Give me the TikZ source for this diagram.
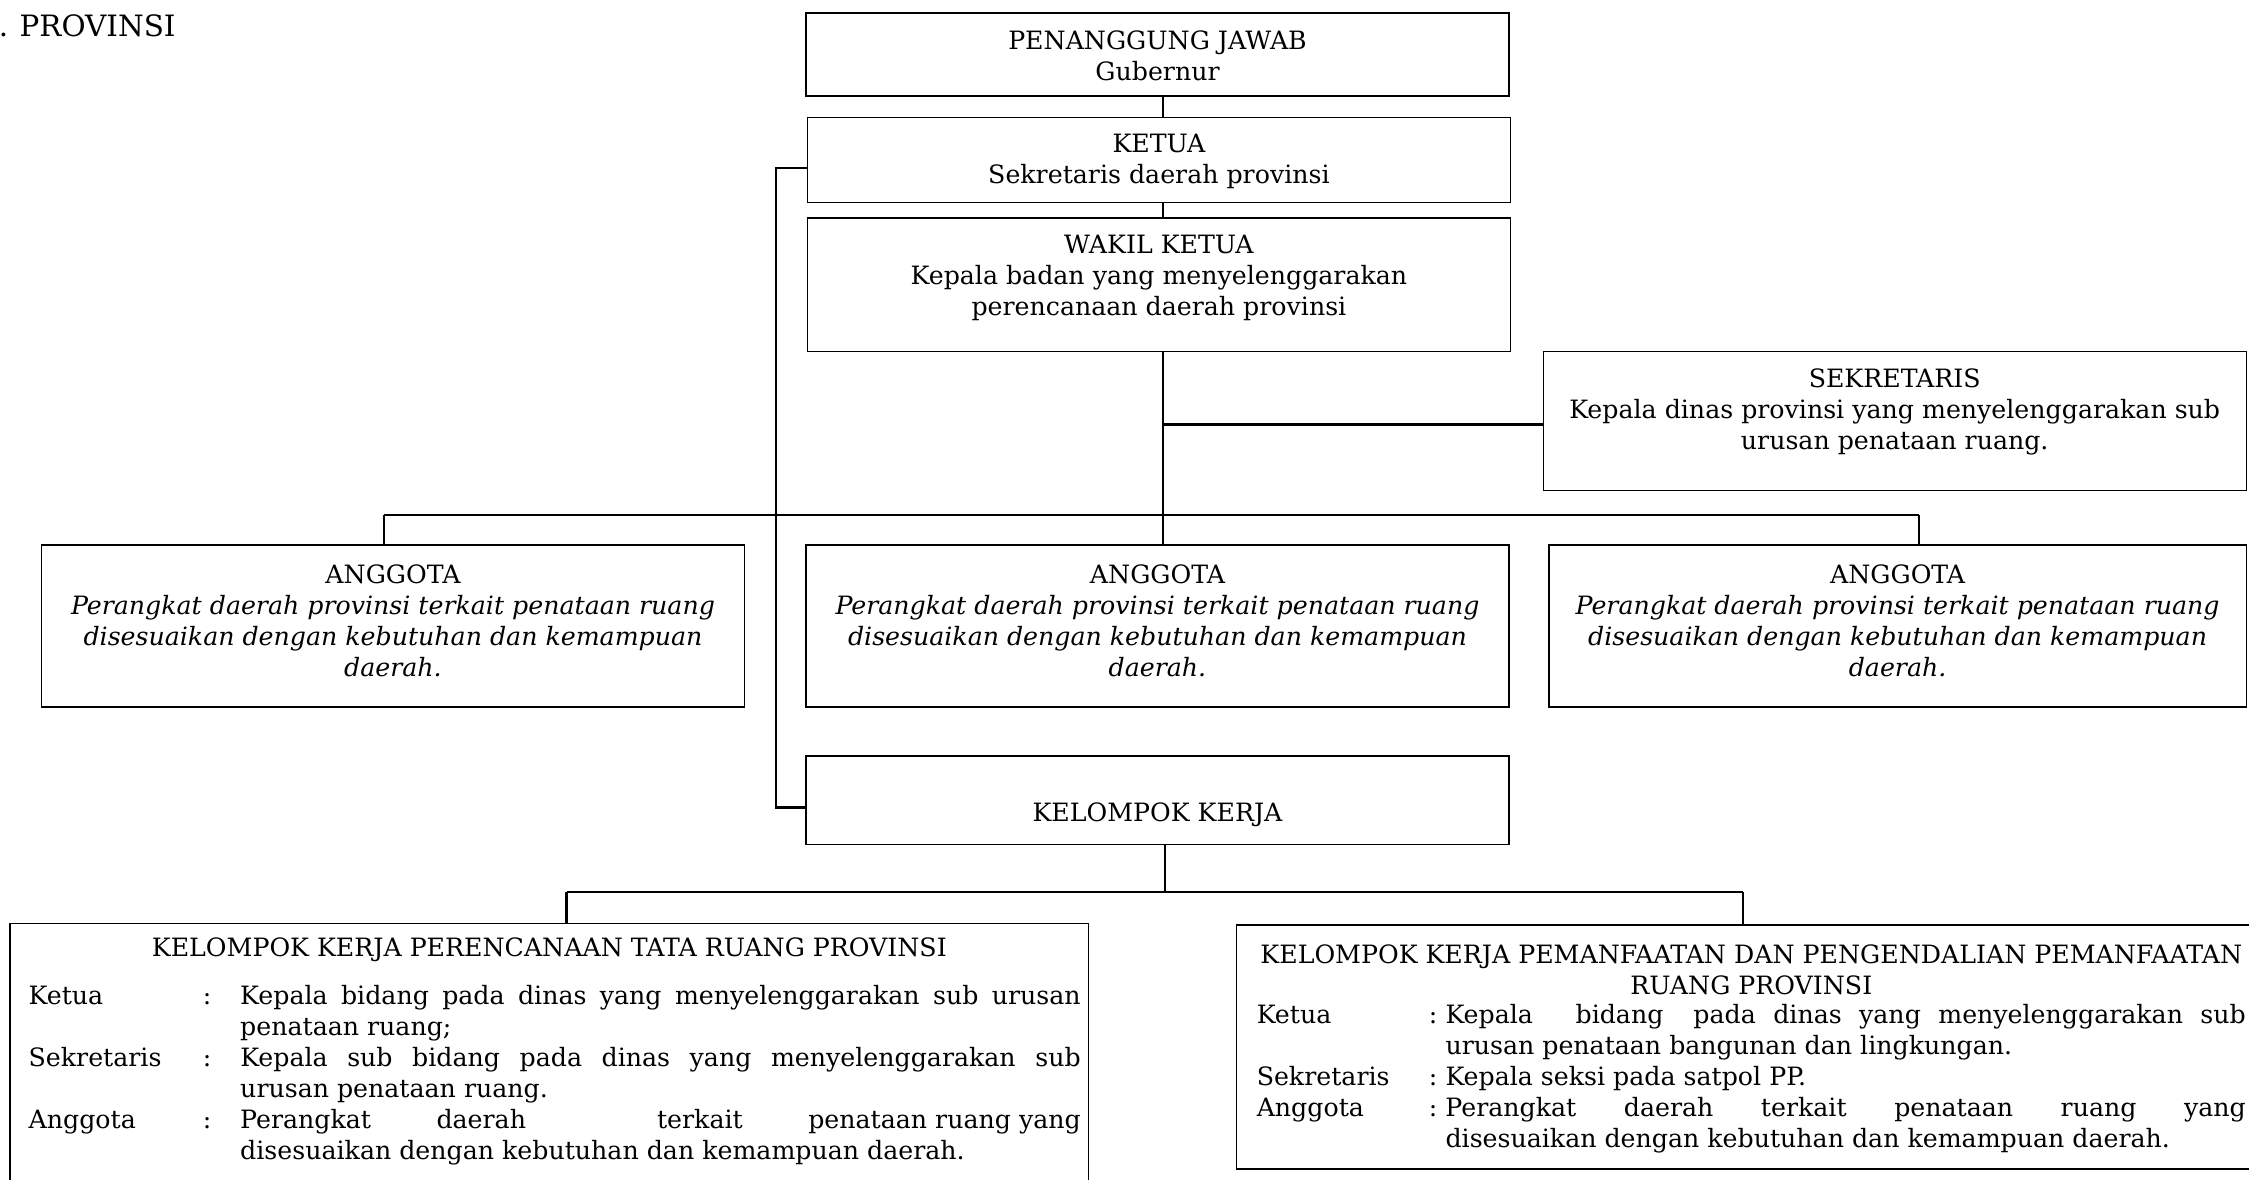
\documentclass[tikz,border=0pt]{standalone}
\usepackage{fontspec}
\usepackage{array}
\setmainfont{DejaVu Serif}
\newcommand\bodyfont{\fontsize{17.6}{21.6}\selectfont\hyphenpenalty=10000\exhyphenpenalty=10000}
\begin{document}
\begin{tikzpicture}[x=1pt,y=-1pt,
  box/.style={draw, line width=0.9pt, inner sep=0pt, outer sep=0pt},
  conn/.style={line width=1.5pt},
  txt/.style={inner sep=0pt, align=center, font=\bodyfont},
  lst/.style={inner sep=0pt, anchor=north west, font=\bodyfont},
]
\clip (0,0) rectangle (1568,822);
% header
\node[inner sep=0pt, anchor=west, font=\fontsize{20.5}{24}\selectfont] (hdr) at (-1,18) {.\hspace{8pt}PROVINSI};
% boxes
\node[box, minimum width=490pt, minimum height=58pt] (pj) at (807,38) {};
\node[box, minimum width=490pt, minimum height=59pt] (ketua) at (808,111.5) {};
\node[box, minimum width=490pt, minimum height=93pt] (wakil) at (808,198.5) {};
\node[box, minimum width=490pt, minimum height=97pt] (sek) at (1321,293.5) {};
\node[box, minimum width=490pt, minimum height=113pt] (a1) at (274,436.5) {};
\node[box, minimum width=490pt, minimum height=113pt] (a2) at (807,436.5) {};
\node[box, minimum width=486pt, minimum height=113pt] (a3) at (1323,436.5) {};
\node[box, minimum width=490pt, minimum height=62pt] (kk) at (807,558) {};
\node[box, minimum width=752pt, minimum height=186pt] (kp1) at (383,737) {};
\node[box, minimum width=718pt, minimum height=170pt] (kp2) at (1221,730) {};
% texts
\node[txt] (pjt) at (807,39) {PENANGGUNG JAWAB\\Gubernur};
\node[txt] (kt) at (808,112.5) {KETUA\\Sekretaris daerah provinsi};
\node[txt] (wt) at (808,194) {WAKIL KETUA\\Kepala badan yang menyelenggarakan\\perencanaan daerah provinsi};
\node[txt] (st) at (1321,287) {SEKRETARIS\\Kepala dinas provinsi yang menyelenggarakan sub\\urusan penataan ruang.};
\node[txt] (a1t) at (274,433) {ANGGOTA\\\textit{Perangkat daerah provinsi terkait penataan ruang}\\\textit{disesuaikan dengan kebutuhan dan kemampuan}\\\textit{daerah.}};
\node[txt] (a2t) at (807,433) {ANGGOTA\\\textit{Perangkat daerah provinsi terkait penataan ruang}\\\textit{disesuaikan dengan kebutuhan dan kemampuan}\\\textit{daerah.}};
\node[txt] (a3t) at (1323,433) {ANGGOTA\\\textit{Perangkat daerah provinsi terkait penataan ruang}\\\textit{disesuaikan dengan kebutuhan dan kemampuan}\\\textit{daerah.}};
\node[txt] (kkt) at (807,568) {KELOMPOK KERJA};
% kelompok kerja perencanaan
\node[txt] (kp1t) at (383,662) {KELOMPOK KERJA PERENCANAAN TATA RUANG PROVINSI};
\node[lst] (kp1l) at (19.8,685) {%
\begin{tabular}{@{}p{121.5pt}@{}p{26pt}@{}p{586pt}@{}}
Ketua & : & Kepala bidang pada dinas yang menyelenggarakan sub urusan\linebreak penataan ruang;\\[2pt]
Sekretaris & : & Kepala sub bidang pada dinas yang menyelenggarakan sub\linebreak urusan penataan ruang.\\[2pt]
Anggota & : & Perangkat\hfill daerah\hfill\hfill terkait\hfill penataan ruang yang\linebreak disesuaikan dengan kebutuhan dan kemampuan daerah.
\end{tabular}};
% kelompok kerja pemanfaatan
\node[txt] (kp2t) at (1221,676) {KELOMPOK KERJA PEMANFAATAN DAN PENGENDALIAN PEMANFAATAN\\RUANG PROVINSI};
\node[lst] (kp2l) at (876,698) {%
\begin{tabular}{@{}p{120pt}@{}p{11.6pt}@{}p{558pt}@{}}
Ketua & : & Kepala\hspace{1em} bidang\hspace{0.5em} pada dinas yang menyelenggarakan sub\linebreak urusan penataan bangunan dan lingkungan.\\
Sekretaris & : & Kepala seksi pada satpol PP.\\
Anggota & : & Perangkat daerah terkait penataan ruang yang\linebreak disesuaikan dengan kebutuhan dan kemampuan daerah.
\end{tabular}};
% connectors
\coordinate (cx) at (811,0);
\coordinate (bl) at (268,359);
\coordinate (br) at (1338,359);
\coordinate (kx) at (812,0);
\coordinate (kl) at (395,622);
\coordinate (kr) at (1215,622);
\draw[conn] (pj.south -| cx) -- (ketua.north -| cx);
\draw[conn] (ketua.south -| cx) -- (wakil.north -| cx);
\draw[conn] ([yshift=-5.5pt]ketua.west) -- ++(-22,0) |- ([yshift=-5pt]kk.west);
\draw[conn] (wakil.south -| cx) -- (a2.north -| cx);
\draw[conn] ([yshift=-2.5pt]sek.west) -- ([yshift=-2.5pt]sek.west -| cx);
\draw[conn] (bl) -- (br);
\draw[conn] (bl) -- (bl |- a1.north);
\draw[conn] (br) -- (br |- a3.north);
\draw[conn] (kk.south -| kx) -- (kl -| kx);
\draw[conn] (kl) -- (kr);
\draw[conn] (kl) -- (kl |- kp1.north);
\draw[conn] (kr) -- (kr |- kp2.north);
\end{tikzpicture}
\end{document}
